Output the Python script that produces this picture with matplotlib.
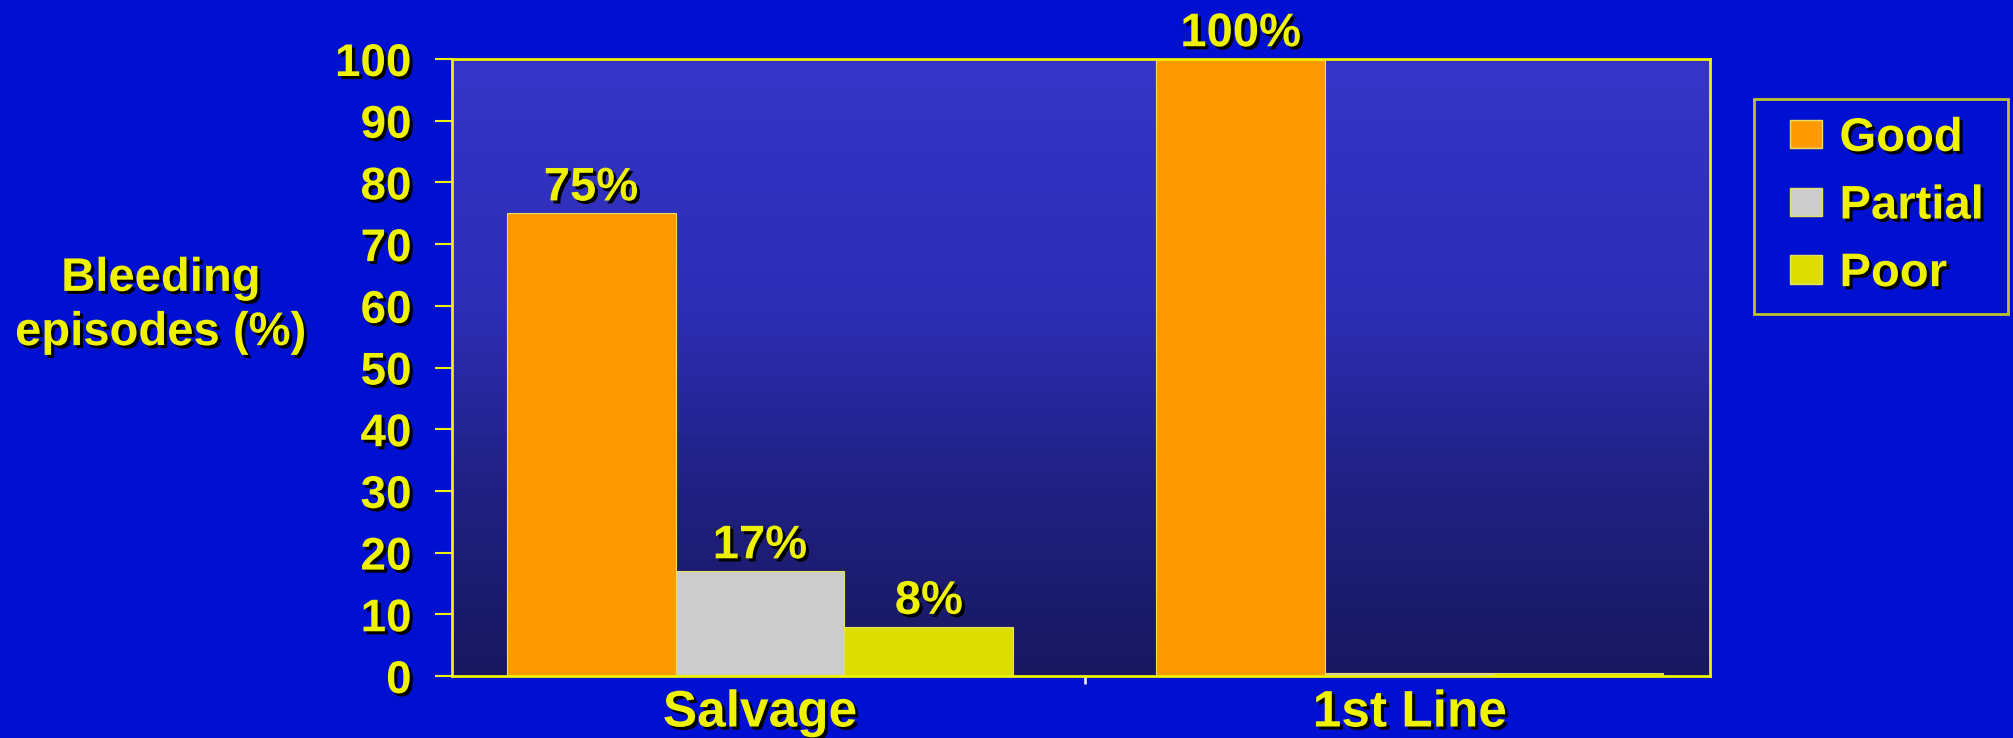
import numpy as np
import matplotlib
matplotlib.use("Agg")
import matplotlib.pyplot as plt
import matplotlib.patheffects as pe
from matplotlib.colors import LinearSegmentedColormap
from matplotlib.legend_handler import HandlerPatch

# Data
groups = ["Salvage", "1st Line"]
series = ["Good", "Partial", "Poor"]
good = [75, 100]
partial = [17, 0.5]
poor = [8, 0.5]
value_labels = [["75%", "100%"], ["17%", ""], ["8%", ""]]
y_ticks = [0, 10, 20, 30, 40, 50, 60, 70, 80, 90, 100]

BG = "#0010D0"
YEL = "#EEF200"
colors = ["#FF9900", "#CCCCCC", "#DDDD00"]
shadow = [pe.SimplePatchShadow(offset=(2.2, -2.2), shadow_rgbFace="black", alpha=1.0), pe.Normal()]

plt.rcParams["font.family"] = ["Liberation Sans", "DejaVu Sans"]
plt.rcParams["font.weight"] = "bold"

fig = plt.figure(figsize=(20.13, 7.38), dpi=100, facecolor=BG)
ax = fig.add_axes([452 / 2013, 62 / 738, (1710 - 452) / 2013, (676 - 59) / 738])
ax.set_facecolor(BG)

# Vertical gradient plot area
grad_cmap = LinearSegmentedColormap.from_list(
    "plotbg",
    [(0.0, (24/255, 24/255, 96/255)),
     (0.3, (32/255, 32/255, 130/255)),
     (0.6, (45/255, 45/255, 182/255)),
     (1.0, (53/255, 53/255, 200/255))])
grad = np.linspace(0, 1, 256).reshape(-1, 1)
ax.imshow(grad, cmap=grad_cmap, extent=[0, 1, 0, 1], transform=ax.transAxes,
          origin="lower", aspect="auto", zorder=0, interpolation="bilinear")

x = np.arange(len(groups))
w = 0.26
data = [good, partial, poor]
for i, (vals, col) in enumerate(zip(data, colors)):
    pos = x + (i - 1) * w
    ax.bar(pos, vals, width=w, color=col, edgecolor="#E8E060", linewidth=0.8, zorder=2)
    for xp, v, lab in zip(pos, vals, value_labels[i]):
        if lab:
            ax.annotate(lab, (xp, v), xytext=(0, 2), textcoords="offset points",
                        ha="center", va="bottom", color=YEL, fontsize=34,
                        fontweight="bold", path_effects=shadow, zorder=3,
                        annotation_clip=False)

ax.set_xlim(-0.474, 1.462)
ax.set_ylim(0, 100)
ax.set_yticks(y_ticks)
ax.set_yticklabels([str(t) for t in y_ticks])
ax.tick_params(axis="y", colors=YEL, length=12, width=1.5, pad=17, labelsize=33)
ax.set_xticks(x)
ax.set_xticklabels(groups)
ax.tick_params(axis="x", length=0, pad=9, labelsize=37, colors=YEL)
ax.set_xticks([0.5], minor=True)
ax.tick_params(axis="x", which="minor", length=6, width=2, color="#E0E0F0")
for lab in ax.get_yticklabels() + ax.get_xticklabels():
    lab.set_fontweight("bold")
    lab.set_path_effects(shadow)

for s in ax.spines.values():
    s.set_color(YEL)
    s.set_linewidth(2)
    s.set_zorder(4)

fig.text(161 / 2013, 1 - 306 / 738, "Bleeding\nepisodes (%)", ha="center", va="center",
         color=YEL, fontsize=34, fontweight="bold", linespacing=1.3, path_effects=shadow)


# Legend swatches sit at the right end of a wider handle box
def swatch(legend, orig_handle, xdescent, ydescent, width, height, fontsize):
    sw = 32 / 1.389
    return plt.Rectangle((width - sw - xdescent, -ydescent), sw, height)


handles = [plt.Rectangle((0, 0), 1, 1, facecolor=c, edgecolor="#E8E060", linewidth=1) for c in colors]
leg_x0 = 1754 / 2013
leg_top = 1 - 99 / 738
leg_w = (2008 - 1754) / 2013
leg = fig.legend(handles, series, loc="upper left",
                 bbox_to_anchor=(leg_x0, leg_top - 0.1, leg_w, 0.1), mode="expand",
                 frameon=True, fontsize=34, handlelength=1.05, handleheight=0.55,
                 handletextpad=0.38, labelspacing=0.5, borderpad=0.38, borderaxespad=0,
                 fancybox=False, handler_map={plt.Rectangle: HandlerPatch(patch_func=swatch)})
leg.get_frame().set_facecolor(BG)
leg.get_frame().set_edgecolor(YEL)
leg.get_frame().set_linewidth(2)
for t in leg.get_texts():
    t.set_color(YEL)
    t.set_fontweight("bold")
    t.set_path_effects(shadow)

fig.savefig("out.png", dpi=100, facecolor=BG)
